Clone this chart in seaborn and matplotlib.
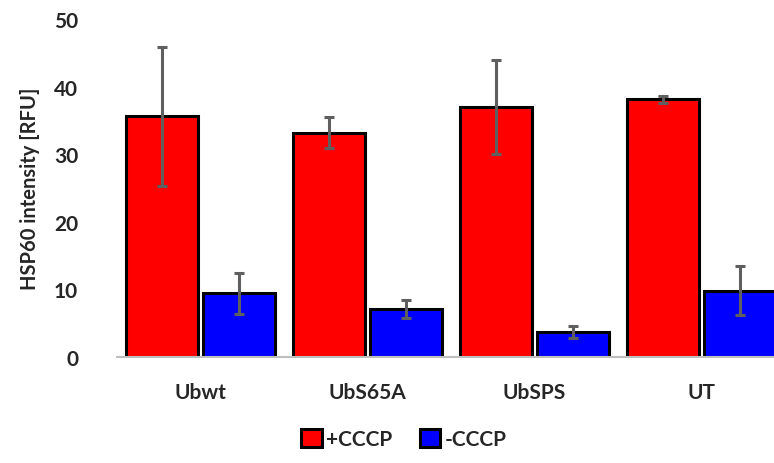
import numpy as np
import pandas as pd
import seaborn as sns
from matplotlib import pyplot as plt

sns.set_style("white")
plt.rcParams['font.family'] = ['Lato', 'DejaVu Sans']

samples = ["Ubwt", "UbS65A", "UbSPS", "UT"]
treatments = ["+CCCP", "-CCCP"]
plus_mean = [35.6, 33.2, 37.0, 38.1]
plus_err = [10.3, 2.3, 7.0, 0.5]
minus_mean = [9.4, 7.1, 3.7, 9.8]
minus_err = [3.1, 1.3, 0.9, 3.6]

df = pd.DataFrame({
    "sample": samples * 2,
    "treatment": [treatments[0]] * 4 + [treatments[1]] * 4,
    "value": plus_mean + minus_mean,
    "err": plus_err + minus_err,
})

fig = plt.figure(figsize=(7.74, 4.64), dpi=100)
ax = fig.add_axes([117 / 774, 106 / 464, 668 / 774, 338 / 464])

sns.barplot(data=df, x="sample", y="value", hue="treatment", order=samples,
            hue_order=treatments, palette={"+CCCP": "#ff0000", "-CCCP": "#0000ff"},
            saturation=1, width=0.93, gap=0.07, edgecolor="black", linewidth=2.2,
            errorbar=None, legend=False, ax=ax)

# error bars at the bar centres
bars = [p for p in ax.patches if p.get_height() > 0]
bars = sorted(bars, key=lambda p: p.get_x())
for p in bars:
    xc = p.get_x() + p.get_width() / 2
    h = p.get_height()
    row = df[np.isclose(df["value"], h)].iloc[0]
    ax.errorbar(xc, h, yerr=row["err"], color="#5f5f5f", elinewidth=2.2,
                capsize=3.5, capthick=2.2, zorder=5)

ax.set_ylim(0, 50)
ax.set_xlim(-0.5, 3.5)
ax.set_yticks([0, 10, 20, 30, 40, 50])
for s in ["top", "right", "left"]:
    ax.spines[s].set_visible(False)
ax.spines["bottom"].set_color("#bfbfbf")
ax.spines["bottom"].set_linewidth(1.5)
ax.tick_params(axis="y", length=0, pad=28, labelsize=15)
ax.tick_params(axis="x", length=0, pad=18, labelsize=15)
for lab in ax.get_yticklabels() + ax.get_xticklabels():
    lab.set_fontweight("bold")
ax.set_xlabel("")
ax.set_ylabel("HSP60 intensity [RFU]", fontsize=14.5, fontweight="bold", labelpad=6)
ax.yaxis.set_label_coords(-0.115, 0.5)

handles = [plt.Rectangle((0, 0), 1, 1, facecolor=c, edgecolor="black", linewidth=2.2)
           for c in ["#ff0000", "#0000ff"]]
fig.legend(handles, treatments, loc="center", bbox_to_anchor=(404 / 774, 1 - 440 / 464),
           ncol=2, frameon=False, handlelength=1.0, handleheight=1.0,
           handletextpad=0.2, columnspacing=1.3,
           prop={"size": 15, "weight": "bold"})

fig.savefig("out.png", dpi=100)
